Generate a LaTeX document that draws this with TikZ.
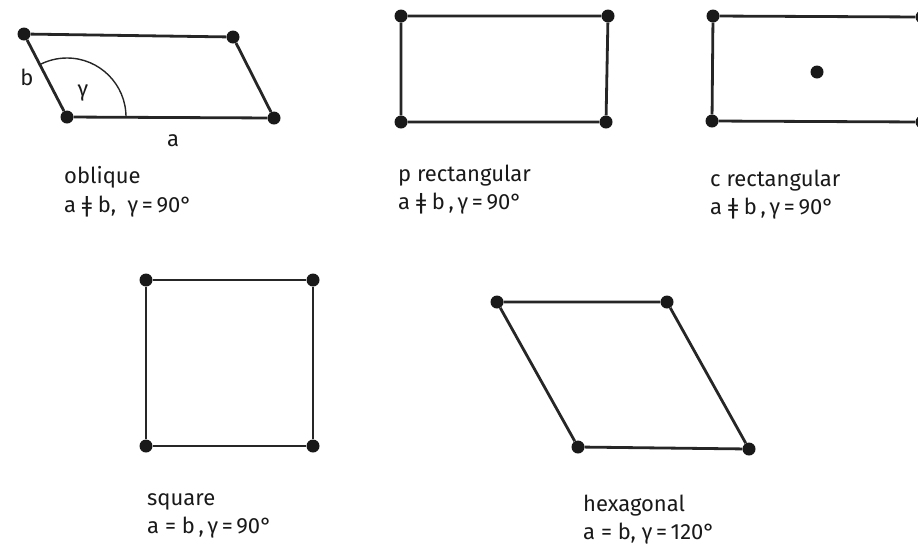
\documentclass[tikz,border=0pt]{standalone}
\usepackage{fontspec}
\setmainfont{Fira Sans}
\newfontfamily\djv{DejaVu Sans}
\newcommand{\neqv}{{\djv ǂ}}
\begin{document}
\begin{tikzpicture}[x=1pt,y=-1pt,
  pt/.style={circle,fill=black!90,inner sep=0pt,minimum size=13pt},
  edge/.style={line width=2.8pt,draw=black!85},
  lbl/.style={anchor=base west,font=\fontsize{22}{26}\selectfont,inner sep=0pt,text=black!90},
  sym/.style={font=\fontsize{22}{26}\selectfont,inner sep=0pt,text=black!90}]
\useasboundingbox (0,0) rectangle (918,550);
% oblique
\node[pt] (o1) at (24,34) {};
\node[pt] (o2) at (233,37) {};
\node[pt] (o3) at (67,117) {};
\node[pt] (o4) at (274,118) {};
\draw[edge] (o1) -- (o2) -- (o4) -- (o3) -- (o1);
\draw[line width=1.4pt,draw=black!85] (o3.center) ++(59,0) arc[start angle=0,end angle=-117,radius=59];
\node[sym] (lb) at (27,77) {b};
\node[sym] (lg) at (83,93) {γ};
\node[sym] (la) at (173,141) {a};
\node[lbl] (t1a) at (64,183) {oblique};
\node[lbl] (t1b) at (64,212) {a \neqv\ b,\ \ γ\,=\,90°};
% p rectangular
\node[pt] (p1) at (401,16) {};
\node[pt] (p2) at (608,16) {};
\node[pt] (p3) at (401,122) {};
\node[pt] (p4) at (606,122) {};
\draw[edge] (p1) -- (p2) -- (p4) -- (p3) -- (p1);
\node[lbl] (t2a) at (398,181) {p rectangular};
\node[lbl] (t2b) at (398,209) {a \neqv\ b\,,\,γ\,=\,90°};
% c rectangular
\node[pt] (c1) at (713,16) {};
\node[pt] (c2) at (922,17) {};
\node[pt] (c3) at (712,121) {};
\node[pt] (c4) at (922,122) {};
\node[pt] (c5) at (817,72) {};
\draw[edge] (c1) -- (c2);
\draw[edge] (c3) -- (c4);
\draw[edge] (c1) -- (c3);
\node[lbl] (t3a) at (710,186) {c rectangular};
\node[lbl] (t3b) at (710,214) {a \neqv\ b\,,\,γ\,=\,90°};
% square
\node[pt] (s1) at (146,280) {};
\node[pt] (s2) at (313,280) {};
\node[pt] (s3) at (146,446) {};
\node[pt] (s4) at (313,446) {};
\draw[edge] (s1) -- (s2) -- (s4) -- (s3) -- (s1);
\node[lbl] (t4a) at (147,505) {square};
\node[lbl] (t4b) at (147,533) {a\ =\ b\,,\,γ\,=\,90°};
% hexagonal
\node[pt] (h1) at (497,302) {};
\node[pt] (h2) at (667,302) {};
\node[pt] (h3) at (578,447) {};
\node[pt] (h4) at (749,449) {};
\draw[edge] (h1) -- (h2) -- (h4) -- (h3) -- (h1);
\node[lbl] (t5a) at (583,511) {hexagonal};
\node[lbl] (t5b) at (583,539) {a\ =\ b,\ γ\,=\,120°};
\end{tikzpicture}
\end{document}
